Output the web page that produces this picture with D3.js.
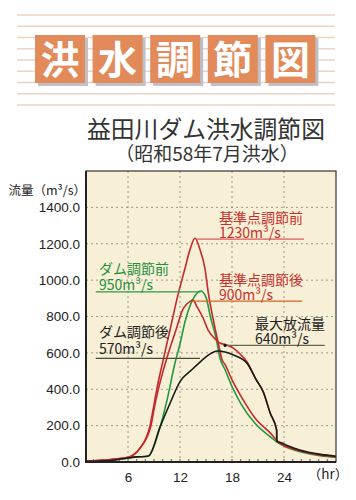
<!DOCTYPE html>
<html><head><meta charset="utf-8">
<script src="https://cdn.jsdelivr.net/npm/d3@7"></script>
<style>body{margin:0;background:#fff;} svg{display:block}</style>
</head><body><svg id="c" width="356" height="500"></svg>
<script>
// ---------- data ----------
const bannerChars = ["洪","水","調","節","図"];
const titleText = "益田川ダム洪水調節図";
const subtitleText = "（昭和58年7月洪水）";
const yAxisTitle = "流量（m³/s）";
const xUnit = "（hr）";
const yTicks = [0,200,400,600,800,1000,1200,1400];
const xTicks = [6,12,18,24];

// ダム放流量 (black)
const blackHr = [1.15,4,6,7,8,8.4,9.7,10.85,12,13.35,14.5,15.6,16.3,17.2,18.1,19.7,20.8,21.6,22.4,23.15,23.17,23.5,24.5,25.8,28.2,30];
const blackV  = [3,8,22,28,30,34,193,323,442,507,558,598,610,605,590,545,452,386,270,176,113,109,88,66,42,32];
// ダム流入量 (green)
const greenHr = [1.15,4,6,7,8,8.4,9.7,10.5,11.4,12,12.6,13.5,14.4,15.0,15.5,16.2,16.6,17.2,18.0,19.1,20.65,22.4,23.5,25.85,28.15,30];
const greenV  = [3,8,22,28,30,34,193,340,540,650,775,895,940,905,800,672,573,507,415,314,213,139,100,57,35,26];
// 基準点調節前 (red, tall)
const redAHr = [1.15,4,6.2,7.4,8.15,8.54,8.9,9.3,10.1,10.85,11.77,12.6,13.15,13.73,14.3,14.9,15.26,15.84,16.4,16.85,17.2,18.0,19.15,20.65,22.4,23.5,25.85,28.15,30];
const redAV  = [5,14,29,77,140,200,290,395,570,727,920,1069,1168,1230,1168,1058,931,782,656,562,535,452,353,242,160,105,62,39,29];
// 基準点調節後 (red, regulated)
const redBHr = [1.15,4,6.2,7.4,8.2,8.65,9.0,9.4,10.6,11.54,12.3,12.7,13.15,13.5,13.93,14.65,15.23,15.92,16.6,17.3,18.15,18.9,19.7,20.8,21.6,22.4,23.15,23.17,23.5,25.85,28.15,30];
const redBV  = [5,14,29,77,138,200,290,380,590,727,837,865,882,890,856,793,727,683,654,645,626,595,553,452,386,270,176,118,105,62,39,29];

const annoLabels = [["基準点調節前","1230m³/s"],["基準点調節後","900m³/s"],["ダム調節前","950m³/s"],["ダム調節後","570m³/s"],["最大放流量","640m³/s"]];
const annoLevels = [1225, 885, 935, 570, 641];

// ---------- layout ----------
const svg = d3.select("#c");
const L = 86, R = 336, T = 171, B = 462;
const x = d3.scaleLinear().domain([1.15, 30]).range([L, R]);
const y = d3.scaleLinear().domain([0, 1600]).range([B, T]);
const CJK = "'Noto Sans CJK JP','Noto Sans CJK SC',sans-serif";
const LAT = "'Liberation Sans',Arial,sans-serif";

// banner stripes
const stripes = d3.range(9).map(i => 15 + i * 11.25);
svg.selectAll("line.stripe").data(stripes).enter().append("line")
  .attr("x1", 17).attr("x2", 335).attr("y1", d => d).attr("y2", d => d)
  .attr("stroke", "#edd3c4").attr("stroke-width", 1.4);

const bg = svg.selectAll("g.ban").data(bannerChars).enter().append("g")
  .attr("transform", (d, i) => `translate(${35 + i * 57.6},35)`);
bg.append("rect").attr("x", 3).attr("y", 3).attr("width", 50).attr("height", 48).attr("fill", "#bfc0c8");
bg.append("rect").attr("width", 50).attr("height", 48).attr("fill", "#e28a5a");
bg.append("text").text(d => d).attr("x", 25).attr("y", 39)
  .attr("text-anchor", "middle").attr("font-family", CJK).attr("font-weight", 700)
  .attr("font-size", 39).attr("fill", "#fff");

// titles
svg.append("text").text(titleText).attr("x", 87).attr("y", 138)
  .attr("font-family", CJK).attr("font-size", 23.8).attr("fill", "#333");
svg.append("text").text(subtitleText).attr("x", 207).attr("y", 161)
  .attr("text-anchor", "middle").attr("font-family", CJK).attr("font-size", 19).attr("fill", "#333");

// plot bg
svg.append("rect").attr("x", L).attr("y", T).attr("width", R - L).attr("height", B - T).attr("fill", "#f7efd6");

// grid
svg.selectAll("line.hg").data(yTicks.filter(d => d > 0)).enter().append("line")
  .attr("x1", L).attr("x2", R).attr("y1", d => y(d)).attr("y2", d => y(d))
  .attr("stroke", "#9c9a88").attr("stroke-dasharray", "2,3").attr("stroke-width", 1);
svg.selectAll("line.vg").data(xTicks).enter().append("line")
  .attr("y1", T).attr("y2", B).attr("x1", d => x(d)).attr("x2", d => x(d))
  .attr("stroke", "#9c9a88").attr("stroke-dasharray", "2,3").attr("stroke-width", 1);

// axes via d3
const yAxis = d3.axisLeft(y).tickValues(yTicks).tickSize(0).tickPadding(6).tickFormat(d3.format(".1f"));
const yg = svg.append("g").attr("transform", `translate(${L},0)`).call(yAxis);
yg.select(".domain").remove();
yg.selectAll("text").attr("font-family", LAT).attr("font-size", 13.5).attr("fill", "#222");

const xAxis = d3.axisBottom(x).tickValues(xTicks).tickSize(0).tickPadding(10).tickFormat(d3.format("d"));
const xg = svg.append("g").attr("transform", `translate(0,${B})`).call(xAxis);
xg.select(".domain").remove();
xg.selectAll("text").attr("font-family", LAT).attr("font-size", 13.5).attr("fill", "#222");

// minor ticks
svg.selectAll("line.mt").data(d3.range(2, 30)).enter().append("line")
  .attr("x1", d => x(d)).attr("x2", d => x(d)).attr("y1", B).attr("y2", B - 3)
  .attr("stroke", "#333").attr("stroke-width", 0.8);

// series
const line = d3.line().curve(d3.curveMonotoneX).x(d => x(d[0])).y(d => y(d[1]));
const series = [
  {hr: greenHr, v: greenV, c: "#1f9a3e"},
  {hr: redAHr, v: redAV, c: "#c8282c"},
  {hr: redBHr, v: redBV, c: "#c8282c"},
  {hr: blackHr, v: blackV, c: "#1a1a1a"}
];
series.forEach(s => {
  svg.append("path").datum(s.hr.map((h, i) => [h, s.v[i]]))
    .attr("d", line).attr("fill", "none").attr("stroke", s.c).attr("stroke-width", 1.6);
});

// annotation lines
const annoSpan = [[13.85, 26.3], [13.4, 26.1], [2.27, 14.4], [2.27, 14.3], [17.2, 28.7]];
const annoLineColor = ["#de5a58", "#d8642e", "#2d9a44", "#4a4a38", "#66664f"];
annoLevels.forEach((v, i) => {
  svg.append("line").attr("x1", x(annoSpan[i][0])).attr("x2", x(annoSpan[i][1]))
    .attr("y1", y(v)).attr("y2", y(v)).attr("stroke", annoLineColor[i]).attr("stroke-width", 1.2);
});
svg.append("circle").attr("cx", x(17.2)).attr("cy", y(641)).attr("r", 1.6).attr("fill", "#111");

// annotation texts (two lines each, one text element)
const annoPos = [[219, 223, 15], [219, 284.5, 15.5], [99, 274, 15.5], [99, 337, 17], [255, 328.5, 15.5]];
const annoTextColor = ["#c8302c", "#c8302c", "#1f8f3a", "#222", "#222"];
annoLabels.forEach((lab, i) => {
  const t = svg.append("text").attr("x", annoPos[i][0]).attr("y", annoPos[i][1])
    .attr("font-family", CJK).attr("font-size", 14).attr("fill", annoTextColor[i]);
  lab.forEach((s, j) => {
    t.append("tspan").attr("x", annoPos[i][0]).attr("dy", j === 0 ? 0 : annoPos[i][2]).text(s);
  });
});

// frame
svg.append("rect").attr("x", L).attr("y", T).attr("width", R - L).attr("height", B - T)
  .attr("fill", "none").attr("stroke", "#333").attr("stroke-width", 1.2);
svg.append("line").attr("x1", L).attr("x2", L).attr("y1", T).attr("y2", B + 1).attr("stroke", "#222").attr("stroke-width", 2);
svg.append("line").attr("x1", L).attr("x2", R).attr("y1", B).attr("y2", B).attr("stroke", "#222").attr("stroke-width", 2);

// axis titles
svg.append("text").text(yAxisTitle).attr("x", 86).attr("y", 195).attr("text-anchor", "end")
  .attr("font-family", CJK).attr("font-size", 12.5).attr("fill", "#222");
svg.append("text").text(xUnit).attr("x", 328).attr("y", 479).attr("text-anchor", "middle")
  .attr("font-family", CJK).attr("font-size", 13.5).attr("fill", "#222");
</script></body></html>
